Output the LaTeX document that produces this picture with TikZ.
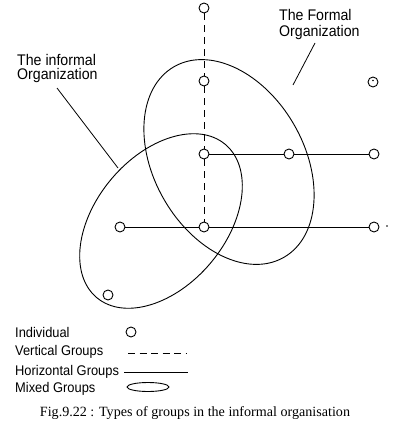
\documentclass[tikz,border=0pt]{standalone}
\usepackage{fontspec}
\setmainfont{Liberation Serif}
\newfontfamily\labfont[FakeStretch=0.92]{Liberation Sans}
\usetikzlibrary{shapes.geometric}
\begin{document}
\begin{tikzpicture}[x=1pt,y=1pt,
  indiv/.style={circle,draw,line width=0.9pt,minimum size=10pt,inner sep=0pt},
  vgroup/.style={line width=0.9pt,dash pattern=on 7pt off 5pt},
  hgroup/.style={line width=0.9pt},
  mixed/.style={line width=0.9pt},
  pointer/.style={line width=0.8pt},
  lab/.style={inner sep=0pt,anchor=base west,font=\labfont\fontsize{15.4}{15}\selectfont},
  legtext/.style={inner sep=0pt,anchor=base west,font=\labfont\fontsize{14}{15}\selectfont},
  figcaption/.style={inner sep=0pt,anchor=base,font=\fontsize{14.1}{16}\selectfont}]
\useasboundingbox (0,0) rectangle (401,-431);

% ellipses (mixed groups)
\draw[mixed,rotate around={-60:(229,-162)}] (229,-162) ellipse [x radius=110,y radius=75];
\draw[mixed,rotate around={50:(161,-221)}] (161,-221) ellipse [x radius=100,y radius=65];

% individuals
\node[indiv] (v0) at (204,-8) {};
\node[indiv] (v1) at (204,-81) {};
\node[indiv] (v2) at (204,-154) {};
\node[indiv] (f1) at (289,-154) {};
\node[indiv] (f2) at (374,-154) {};
\node[indiv] (m1) at (120,-227) {};
\node[indiv] (m2) at (204,-227) {};
\node[indiv] (m3) at (374,-227) {};
\node[indiv] (iso) at (373,-82) {};
\node[indiv] (low) at (108,-295) {};
\fill (373,-80.5) circle (0.8);
\fill (387,-226) circle (0.9);

% groups
\draw[vgroup] (v0) -- (v1) -- (v2) -- (m2);
\draw[hgroup] (v2) -- (f1) -- (f2);
\draw[hgroup] (m1) -- (m2) -- (m3);

% labels
\node[lab] (inf1) at (17,-65) {The informal};
\node[lab] (inf2) at (17,-79) {Organization};
\node[lab] (for1) at (279,-20) {The Formal};
\node[lab] (for2) at (279,-36) {Organization};
\coordinate (ip0) at (57,-88);
\coordinate (ip1) at (118,-168);
\coordinate (fp0) at (315,-43);
\coordinate (fp1) at (293,-85);
\draw[pointer] (ip0) -- (ip1);
\draw[pointer] (fp0) -- (fp1);

% legend
\node[legtext] (l1) at (15,-337) {Individual};
\node[legtext] (l2) at (15,-355) {Vertical Groups};
\node[legtext] (l3) at (15,-375) {Horizontal Groups};
\node[legtext] (l4) at (15,-392) {Mixed Groups};
\node[indiv] (li) at (131,-332) {};
\coordinate (lv0) at (128,-353);
\coordinate (lv1) at (187,-353);
\draw[vgroup,dash pattern=on 7pt off 4.5pt] (lv0) -- (lv1);
\coordinate (lh0) at (124,-372);
\coordinate (lh1) at (188,-372);
\draw[hgroup] (lh0) -- (lh1);
\draw[mixed] (148,-387) ellipse [x radius=21,y radius=4.5];

% caption
\node[figcaption] (caption) at (195,-416) {Fig.9.22 : Types of groups in the informal organisation};
\end{tikzpicture}
\end{document}
